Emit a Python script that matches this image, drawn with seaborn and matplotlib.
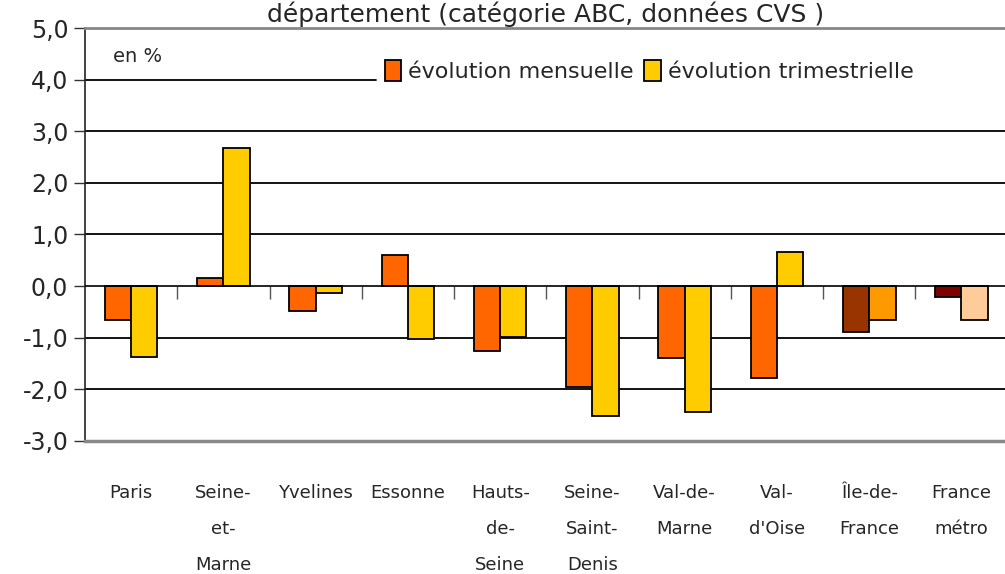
import numpy as np
import pandas as pd
import matplotlib
matplotlib.use("Agg")
import matplotlib.pyplot as plt
import seaborn as sns
from matplotlib.patches import Patch

# --------------------------------------------------
# data
# --------------------------------------------------
categories = ["Paris", "Seine-\net-\nMarne", "Yvelines", "Essonne", "Hauts-\nde-\nSeine",
              "Seine-\nSaint-\nDenis", "Val-de-\nMarne", "Val-\nd'Oise", "Île-de-\nFrance", "France\nmétro"]
evol_mensuelle = [-0.65, 0.16, -0.48, 0.60, -1.25, -1.96, -1.40, -1.79, -0.90, -0.22]
evol_trimestrielle = [-1.37, 2.68, -0.14, -1.03, -0.99, -2.52, -2.44, 0.67, -0.65, -0.65]
series_names = ["évolution mensuelle", "évolution trimestrielle"]
yticks = [5, 4, 3, 2, 1, 0, -1, -2, -3]

df = pd.DataFrame({
    "cat": categories * 2,
    "serie": [series_names[0]] * len(categories) + [series_names[1]] * len(categories),
    "val": evol_mensuelle + evol_trimestrielle,
})

sns.set_style("white")
plt.rcParams["font.family"] = ["DejaVu Sans"]

fig = plt.figure(figsize=(10.05, 5.74), dpi=100)
ax = fig.add_axes([0.0846, 0.232, 0.918, 0.719])

# gridlines (the 4,0 line stops where the legend starts)
for v in [1, 2, 3, -1, -2]:
    ax.axhline(v, color="black", lw=1.3, zorder=0)
ax.axhline(4, xmax=0.315, color="black", lw=1.3, zorder=0)
ax.axhline(0, color="black", lw=1.2, zorder=3)

sns.barplot(data=df, x="cat", y="val", hue="serie", order=categories,
            palette=["#FF6600", "#FFCC00"], saturation=1, width=0.57, edgecolor="black",
            linewidth=1.3, ax=ax, legend=False, zorder=2)

# special colours for the two aggregate groups
ax.containers[0][8].set_facecolor("#993300")
ax.containers[1][8].set_facecolor("#FF9900")
ax.containers[0][9].set_facecolor("#800000")
ax.containers[1][9].set_facecolor("#FFCC99")

ax.set_xlim(-0.5, len(categories) - 0.5)
ax.set_ylim(-3, 5)
ax.set_yticks(yticks)
ax.set_yticklabels([f"{v:.1f}".replace(".", ",") for v in yticks], fontsize=17)
ax.tick_params(axis="y", direction="out", length=8, width=1, color="#333333", left=True, pad=4)
ax.tick_params(axis="x", length=0, pad=31, labelsize=13)
for lab in ax.get_xticklabels():
    lab.set_linespacing(2.3)
    lab.set_verticalalignment("top")
ax.set_xlabel("")
ax.set_ylabel("")

for s in ["top", "bottom"]:
    ax.spines[s].set_color("#888888")
ax.spines["top"].set_linewidth(2)
ax.spines["bottom"].set_linewidth(2.5)
ax.spines["right"].set_visible(False)
ax.spines["left"].set_color("#222222")
ax.spines["left"].set_linewidth(1.2)

# category separator ticks on the zero line
sec = ax.secondary_xaxis(3 / 8)
sec.set_xticks(np.arange(len(categories) - 1) + 0.5)
sec.tick_params(axis="x", direction="out", length=9, width=1, color="#555555", labelbottom=False)
sec.spines["bottom"].set_visible(False)

ax.text(-0.2, 4.45, "en %", fontsize=14, va="center", ha="left")

handles = [Patch(facecolor="#FF6600", edgecolor="black", lw=1.3),
           Patch(facecolor="#FFCC00", edgecolor="black", lw=1.3)]
leg = fig.legend(handles, series_names, loc="center left", bbox_to_anchor=(0.376, 0.876),
                 ncol=2, fontsize=16, frameon=False,
                 handlelength=0.75, handleheight=1.05, handletextpad=0.3,
                 columnspacing=0.5, borderpad=0.3, borderaxespad=0)

fig.text(0.543, 0.975, "département (catégorie ABC, données CVS )", fontsize=18,
         ha="center", va="center")

fig.savefig("out.png", dpi=100)
